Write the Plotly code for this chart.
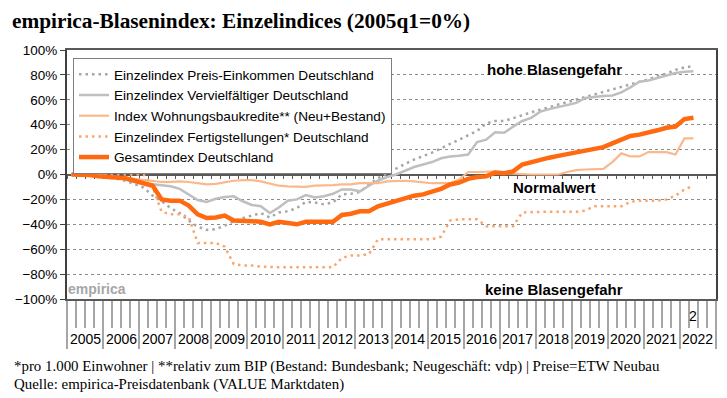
import plotly.graph_objects as go

W, H = 727, 398

YEARS = ["2005", "2006", "2007", "2008", "2009", "2010", "2011", "2012", "2013",
         "2014", "2015", "2016", "2017", "2018", "2019", "2020", "2021", "2022"]
LAST_QUARTER_LABEL = "2"

PREIS_EINKOMMEN = [0, 0, -0.5, -1, -2, -3.5, -5, -7.5, -10.5, -17,
                   -21.5, -27, -31, -37, -42, -44.5, -44, -41, -37.5, -35,
                   -33, -31, -34.5, -30.5, -29.5, -27, -22, -22.5, -24, -22.5,
                   -16, -15.5, -14, -8, -3, 1, 5, 8.5, 12, 14.5,
                   17.5, 21, 24.5, 28, 31.5, 35, 41, 43, 43, 45,
                   47.5, 50, 52, 54, 56, 58, 60, 62.5, 64, 66,
                   68, 70, 72, 74, 76.5, 79, 81, 84, 86, 87]

VERVIELFAELTIGER = [0, 0, -0.5, -1, -1.5, -2.5, -4, -6, -7, -8,
                    -9, -9.5, -11.5, -16, -20.5, -22, -19.5, -18, -17.5, -21.5,
                    -24.5, -25.5, -31, -26.5, -21, -20, -16.5, -18.5, -17.5, -15.5,
                    -12, -12, -13.5, -9, -5, -2, 0, 3, 6, 8,
                    10, 13, 14.5, 15, 16, 26, 28, 34, 33.5, 38.5,
                    43, 45.5, 50.5, 52.5, 54, 55.5, 57.5, 61.5, 62.5, 63,
                    63.5, 66, 70, 74.5, 75.5, 77.5, 79.5, 81.5, 82.5, 83]

KREDITE = [0, 0, 0, -0.5, -1, -1.5, -2.5, -3.5, -4.5, -5.5,
           -6, -6, -5.5, -6, -7, -8, -7.5, -6, -5, -4.5,
           -4.5, -5.5, -7, -9, -9.5, -10, -10, -9, -9, -8.5,
           -8, -8, -7, -7, -7, -5.5, -5, -5, -5.5, -6.5,
           -7, -7, -7, -4, 2, 2, 2.5, 2.5, 1, 0.5,
           0.5, 0, 0, 0, 0, 2, 3.5, 4, 4.5, 4.5,
           10, 17, 14.5, 14.5, 18, 18, 18, 16, 29, 29]

FERTIGSTELLUNGEN = [0, 0, 0, 0, 0, 0, 0, 0, 0, -10,
                    -30, -32, -32, -34, -55, -55, -55, -58, -72, -73,
                    -73, -74, -74.5, -74.5, -74.5, -74.5, -74.5, -74.5, -74.5, -74.5,
                    -67, -65, -65, -64, -52, -52, -52, -52, -52, -52,
                    -52, -50, -37, -36, -36, -36, -41.5, -41.5, -41.5, -41.5,
                    -30.5, -30, -30, -30, -30, -30, -30, -29, -25.5, -25.5,
                    -25.5, -25.5, -22, -21, -21, -21, -20, -17, -12, -9]

GESAMT = [0, 0, -0.5, -1.5, -2, -2.5, -3, -5, -7, -9,
          -20, -21, -21, -25, -32, -35, -34.5, -33, -37, -37,
          -37.5, -38, -40, -38, -39, -40, -38, -38, -38.5, -38,
          -32.5, -31.5, -29.5, -29.5, -25.5, -23.5, -21.5, -19.5, -17, -16,
          -14, -11.5, -8, -6.5, -3.5, -2, -1.5, 1.5, 1, 2.5,
          8, 10, 12, 13.5, 15, 16.5, 18, 19.5, 21, 22,
          25, 28, 31, 32, 33.5, 35.5, 37.5, 38.5, 44.5, 45.5]

SERIES = [
    ("Einzelindex Preis-Einkommen Deutschland", PREIS_EINKOMMEN, "#A6A6A6", 2.5, "2.5px,4px"),
    ("Einzelindex Vervielfältiger Deutschland", VERVIELFAELTIGER, "#BFBFBF", 2.5, "solid"),
    ("Index Wohnungsbaukredite** (Neu+Bestand)", KREDITE, "#FAB98C", 2.2, "solid"),
    ("Einzelindex Fertigstellungen* Deutschland", FERTIGSTELLUNGEN, "#F9A66C", 2.5, "2.5px,4px"),
    ("Gesamtindex Deutschland", GESAMT, "#FF6A10", 4.5, "solid"),
]

SANS = "Liberation Sans, Arial, sans-serif"
SERIF = "Liberation Serif, Times New Roman, serif"

n_q = 4 * len(YEARS)
x0, x1 = 67, 716
ytop, ybot = 50, 299
xdom = [x0 / W, x1 / W]
ydom = [1 - ybot / H, 1 - ytop / H]
y_zero_paper = (ydom[0] + ydom[1]) / 2

fig = go.Figure()
for name, vals, col, wd, dash in SERIES:
    fig.add_trace(go.Scatter(
        x=list(range(len(vals))), y=vals, mode="lines", name=name,
        line=dict(color=col, width=wd, dash=dash),
    ))
fig.add_trace(go.Scatter(x=[], y=[], xaxis="x2", yaxis="y", showlegend=False, hoverinfo="skip"))

fig.update_layout(
    width=W, height=H,
    margin=dict(l=0, r=0, t=0, b=0, autoexpand=False),
    paper_bgcolor="white", plot_bgcolor="white",
    showlegend=True,
    legend=dict(
        x=73 / W, y=1 - 58 / H, xanchor="left", yanchor="top",
        bgcolor="white", bordercolor="#7F7F7F", borderwidth=1,
        font=dict(family=SANS, size=13.6, color="#000"),
        tracegroupgap=0,
    ),
    title=dict(
        text="empirica-Blasenindex: Einzelindices (2005q1=0%)",
        x=12 / W, xanchor="left", y=1 - 21 / H, yanchor="middle",
        font=dict(family=SERIF, size=21.3, color="#000", weight="bold"),
        automargin=False,
    ),
    xaxis=dict(
        domain=xdom, range=[-0.5, n_q - 0.5], showgrid=False, zeroline=False,
        showline=True, linecolor="#595959", linewidth=1.5, mirror=True,
        tickmode="linear", tick0=-0.5, dtick=4, ticks="outside", ticklen=48,
        tickcolor="#A6A6A6", tickwidth=1.5, showticklabels=False,
        minor=dict(ticks="outside", tick0=-0.5, dtick=1, ticklen=27,
                   tickcolor="#A6A6A6", tickwidth=1.5, showgrid=False),
        fixedrange=True, automargin=False,
    ),
    xaxis2=dict(
        overlaying="x", anchor="free", position=y_zero_paper, side="bottom",
        range=[-0.5, n_q - 0.5], showgrid=False, zeroline=False,
        showline=True, linecolor="#595959", linewidth=1.5,
        tickmode="linear", tick0=-0.5, dtick=1, ticks="outside", ticklen=4,
        tickcolor="#595959", tickwidth=1, showticklabels=False,
        layer="below traces", automargin=False,
    ),
    yaxis=dict(
        domain=ydom, range=[-100, 100], tickmode="linear", tick0=-100, dtick=20,
        ticksuffix="%", showgrid=True, gridcolor="#8C8C8C", gridwidth=1, griddash="dot",
        zeroline=False, showline=True, linecolor="#404040", linewidth=2, mirror=True,
        ticks="outside", ticklen=5, tickcolor="#404040",
        tickfont=dict(family=SANS, size=13.5, color="#000"),
        fixedrange=True, automargin=False,
    ),
)

ann = []
for k, yr in enumerate(YEARS):
    ann.append(dict(x=4 * k + 1.5, xref="x", y=1 - 339 / H, yref="paper",
                    text=yr, showarrow=False, xanchor="center", yanchor="middle",
                    font=dict(family=SANS, size=14, color="#000")))
ann.append(dict(x=len(GESAMT) - 1, xref="x", y=1 - 316 / H, yref="paper",
                text=LAST_QUARTER_LABEL, showarrow=False, xanchor="center", yanchor="middle",
                font=dict(family=SANS, size=14, color="#000")))
for txt, ypx in [("hohe Blasengefahr", 69), ("Normalwert", 187), ("keine Blasengefahr", 289)]:
    ann.append(dict(x=554 / W, xref="paper", y=1 - ypx / H, yref="paper", text=txt,
                    showarrow=False, xanchor="center", yanchor="middle",
                    font=dict(family=SANS, size=15, color="#000", weight="bold")))
ann.append(dict(x=97 / W, xref="paper", y=1 - 289 / H, yref="paper", text="empirica",
                showarrow=False, xanchor="center", yanchor="middle",
                font=dict(family=SANS, size=14, color="#A6A6A6", weight="bold")))
ann.append(dict(x=12 / W, xref="paper", xanchor="left", y=1 - 366 / H, yref="paper",
                text="*pro 1.000 Einwohner | **relativ zum BIP (Bestand: Bundesbank; Neugeschäft: vdp) | Preise=ETW Neubau",
                showarrow=False, yanchor="middle",
                font=dict(family=SERIF, size=14.9, color="#000")))
ann.append(dict(x=12 / W, xref="paper", xanchor="left", y=1 - 384 / H, yref="paper",
                text="Quelle: empirica-Preisdatenbank (VALUE Marktdaten)",
                showarrow=False, yanchor="middle",
                font=dict(family=SERIF, size=14.9, color="#000")))
fig.update_layout(annotations=ann)

fig.write_html("out.html", config={"displayModeBar": False},
               post_script="document.body.style.margin='0';document.body.style.overflow='hidden';")
